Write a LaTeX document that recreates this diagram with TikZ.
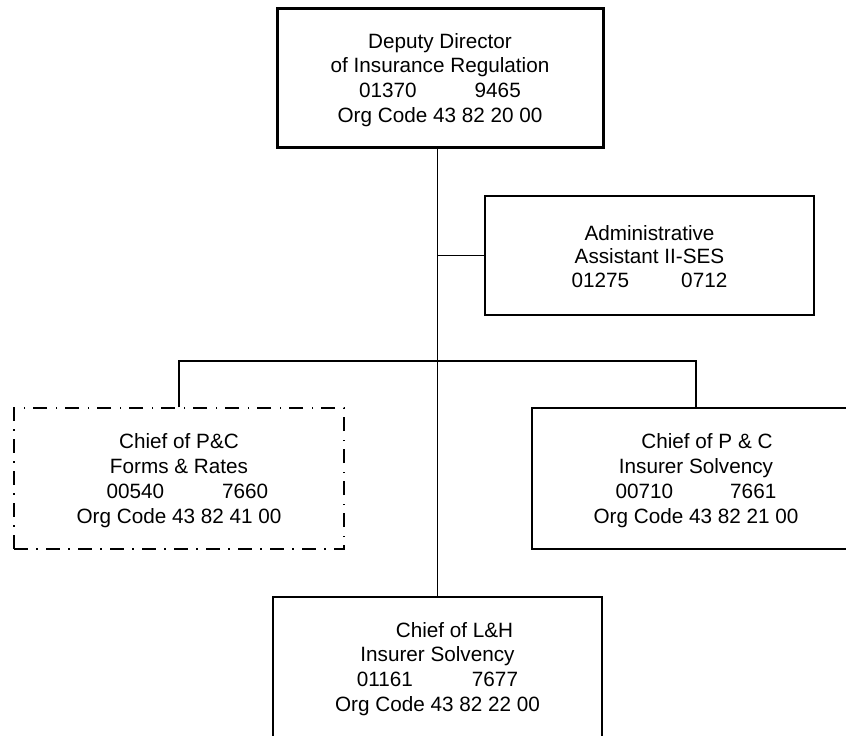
\documentclass[tikz,border=0pt]{standalone}
\usepackage{fontspec}
\setmainfont{Liberation Sans}
% a strut that lowers a text block a little inside its box
\newcommand{\toproom}{\rule{0pt}{19pt}}
\begin{document}
\begin{tikzpicture}[x=1pt,y=-1pt,
  orgtext/.style={align=center, font=\fontsize{20.7}{24.9}\selectfont, inner sep=0pt},
  orgbox/.style={orgtext, draw, line width=1.5pt, rectangle},
  headbox/.style={orgbox, line width=3pt},
  vacantbox/.style={orgbox, dash pattern=on 14pt off 8pt on 1.5pt off 8.5pt},
  link/.style={line width=1.5pt}]
  \useasboundingbox (0,0) rectangle (846,736);
  \clip (0,0) rectangle (846,736);

  % Deputy Director
  \node[headbox, minimum width=326pt, minimum height=139pt] (head) at (440,78)
    {\toproom Deputy Director\\ of Insurance Regulation\\ 01370\hspace{58pt}9465\\ Org Code 43 82 20 00};

  % staff position
  \node[orgbox, minimum width=329pt, minimum height=119pt,
        font=\fontsize{20.7}{23.6}\selectfont] (admin) at (649.5,255.5)
    {\rule{0pt}{17pt}Administrative\\ Assistant II-SES\\ 01275\hspace{52pt}0712};

  % vacant / proposed unit
  \node[vacantbox, minimum width=330pt, minimum height=141pt] (pcforms) at (179,478.5)
    {\toproom Chief of P\&C\\ Forms \& Rates\\ \hspace*{17pt}00540\hspace{58pt}7660\\ Org Code 43 82 41 00};

  % P&C solvency
  \node[orgbox, minimum width=328pt, minimum height=141pt] (pcsolv) at (696,478.5)
    {\toproom\hspace*{22pt}Chief of P \& C\\ Insurer Solvency\\ 00710\hspace{57pt}7661\\ Org Code 43 82 21 00};

  % L&H solvency
  \node[orgbox, minimum width=329pt, minimum height=140pt] (lhsolv) at (437.5,667)
    {\toproom\hspace*{34pt}Chief of L\&H\\ Insurer Solvency\\ 01161\hspace{59pt}7677\\ Org Code 43 82 22 00};

  % connectors
  \coordinate (spinetop) at (lhsolv.north |- head.south);
  \coordinate (bar) at (437.5,361);
  \draw[link] (spinetop) -- (lhsolv.north);
  \draw[link] (spinetop |- admin.west) -- (admin.west);
  \draw[link] (pcforms.north) -- (pcforms.north |- bar) -- (pcsolv.north |- bar) -- (pcsolv.north);
\end{tikzpicture}
\end{document}
